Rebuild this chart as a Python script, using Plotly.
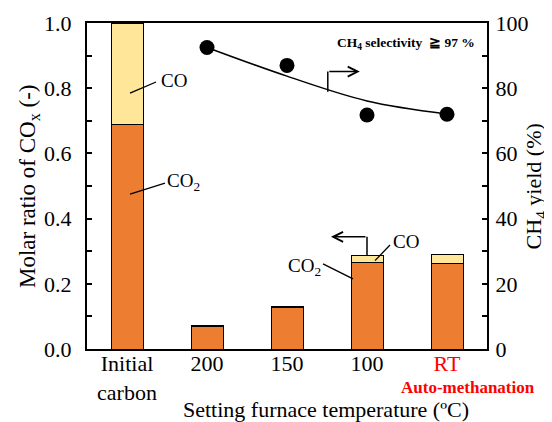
import plotly.graph_objects as go

# ---- data ----
categories = ["Initial<br>carbon", "200", "150", "100", "<span style='color:red'>RT</span>"]
co2_ratio = [0.69, 0.068, 0.126, 0.265, 0.263]
co_ratio = [0.31, 0.004, 0.004, 0.023, 0.026]
yield_x = [1, 2, 3, 4]
ch4_yield = [92.5, 87.0, 71.8, 72.0]
trend_yield = [92.5, 83.7, 76.1, 72.1]
left_ticks = [0.0, 0.2, 0.4, 0.6, 0.8, 1.0]
right_ticks = [0, 20, 40, 60, 80, 100]

FONT = "Liberation Serif, Times New Roman, serif"
ORANGE = "#ED7D31"
LIGHT = "#FFE699"

xpos = list(range(len(categories)))

fig = go.Figure()
fig.add_trace(go.Bar(x=xpos, y=co2_ratio, width=0.4, marker=dict(color=ORANGE, line=dict(color="black", width=1)),
                     name="CO2", showlegend=False))
fig.add_trace(go.Bar(x=xpos, y=co_ratio, width=0.4, marker=dict(color=LIGHT, line=dict(color="black", width=1)),
                     name="CO", showlegend=False))
fig.add_trace(go.Scatter(x=yield_x, y=trend_yield, mode="lines", line=dict(color="black", width=1.5, shape="spline"),
                         yaxis="y2", showlegend=False))
fig.add_trace(go.Scatter(x=yield_x, y=ch4_yield, mode="markers", marker=dict(color="black", size=15),
                         yaxis="y2", showlegend=False))

# the page body adds an 8px margin, so the figure is sized/margined to compensate
fig.update_layout(
    width=544, height=414,
    margin=dict(l=79, r=65, t=15, b=73),
    barmode="stack",
    plot_bgcolor="white", paper_bgcolor="white",
    font=dict(family=FONT, color="black", size=22),
    xaxis=dict(range=[-0.5, 4.5], tickvals=xpos, ticktext=categories, ticks="", automargin=False,
               ticklabelstandoff=-6,
               showline=True, linecolor="black", linewidth=2, mirror=True, showgrid=False, zeroline=False,
               tickfont=dict(size=22)),
    yaxis=dict(range=[0, 1], tickvals=left_ticks, ticktext=[f"{v:.1f}" for v in left_ticks], automargin=False,
               ticks="inside", ticklen=5, tickwidth=1.5, tickcolor="black", ticklabelstandoff=9,
               minor=dict(dtick=0.1, ticks="inside", ticklen=5, tickwidth=1.5, tickcolor="black"),
               showline=True, linecolor="black", linewidth=2, showgrid=False, zeroline=False,
               tickfont=dict(size=22)),
    yaxis2=dict(range=[0, 100], overlaying="y", side="right", tickvals=right_ticks, automargin=False,
                ticks="inside", ticklen=5, tickwidth=1.5, tickcolor="black", ticklabelstandoff=2,
                minor=dict(dtick=10, ticks="inside", ticklen=5, tickwidth=1.5, tickcolor="black"),
                showline=True, linecolor="black", linewidth=2, showgrid=False, zeroline=False,
                tickfont=dict(size=22)),
)

# axis titles
fig.add_annotation(x=-0.145, y=0.5, xref="paper", yref="paper", text="Molar ratio of CO<sub>x</sub> (-)",
                   textangle=-90, showarrow=False, xanchor="center", yanchor="middle",
                   font=dict(size=23, family=FONT, color="black"))
fig.add_annotation(x=1.121, y=0.5, xref="paper", yref="paper", text="CH<sub>4</sub> yield (%)",
                   textangle=-90, showarrow=False, xanchor="center", yanchor="middle",
                   font=dict(size=22, family=FONT, color="black"))
fig.add_annotation(x=0.5975, y=-0.186, xref="paper", yref="paper", text="Setting furnace temperature (ºC)",
                   showarrow=False, xanchor="center", yanchor="middle", borderpad=0,
                   font=dict(size=22, family=FONT, color="black"))

def line(x0, y0, x1, y1, w=1.3):
    fig.add_shape(type="line", xref="x", yref="y", x0=x0, y0=y0, x1=x1, y1=y1,
                  line=dict(color="black", width=w))

# leader lines
line(0.0375, 0.785, 0.3625, 0.819)
line(0.0375, 0.475, 0.475, 0.509)
line(3.10, 0.271, 3.2875, 0.319)
line(2.45, 0.261, 2.825, 0.215)
# arrows
line(2.51, 0.789, 2.51, 0.851, 1.5)
fig.add_annotation(x=2.91, y=0.851, ax=2.51, ay=0.851, xref="x", yref="y", axref="x", ayref="y",
                   text="", showarrow=True, arrowhead=5, arrowsize=1.3, arrowwidth=1.5, arrowcolor="black")
line(3.0, 0.288, 3.0, 0.344, 1.5)
fig.add_annotation(x=2.55, y=0.344, ax=3.0, ay=0.344, xref="x", yref="y", axref="x", ayref="y",
                   text="", showarrow=True, arrowhead=5, arrowsize=1.3, arrowwidth=1.5, arrowcolor="black")

def label(x, y, text, xanchor="center", size=19, **kw):
    fig.add_annotation(x=x, y=y, xref="x", yref="y", text=text, showarrow=False, xanchor=xanchor,
                       yanchor="middle", font=dict(size=size, family=FONT, color="black"), **kw)

label(0.5875, 0.823, "CO")
label(0.475, 0.512, "CO<sub>2</sub>", xanchor="left")
label(3.296, 0.329, "CO", xanchor="left")
label(2.45, 0.252, "CO<sub>2</sub>", xanchor="right")
label(3.4875, 0.938, "<b>CH<sub>4</sub> selectivity  ≧ 97 %</b>", size=13.5)

fig.add_annotation(x=4.2625, y=-0.117, xref="x", yref="paper", text="<b>Auto-methanation</b>", showarrow=False,
                   yanchor="middle", font=dict(size=17, family=FONT, color="red"))

fig.write_html("out.html")
